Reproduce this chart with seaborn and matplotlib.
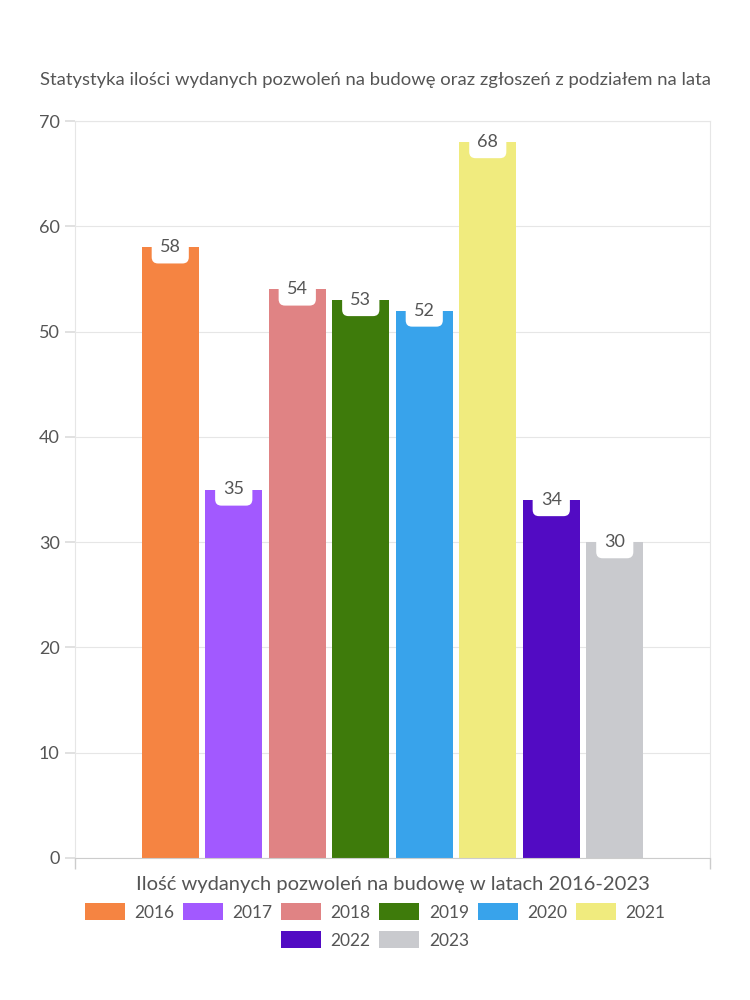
import matplotlib
matplotlib.use("Agg")
import matplotlib.pyplot as plt
import seaborn as sns
import pandas as pd
from matplotlib.patches import Patch

years = ["2016", "2017", "2018", "2019", "2020", "2021", "2022", "2023"]
values = [58, 35, 54, 53, 52, 68, 34, 30]
category = "Ilość wydanych pozwoleń na budowę w latach 2016-2023"
colors = ["#F58442", "#A259FF", "#E08384", "#3E7B0B", "#38A3EB", "#F0EB7E", "#520BC3", "#C9CACE"]
title = "Statystyka ilości wydanych pozwoleń na budowę oraz zgłoszeń z podziałem na lata"

sns.set_theme(style="white")
plt.rcParams['font.family'] = ['Lato', 'DejaVu Sans']
txt = "#555555"

df = pd.DataFrame({"cat": [category] * len(years), "year": years, "value": values})

fig = plt.figure(figsize=(7.5, 10), dpi=100)
ax = fig.add_axes([0.1, 0.142, 0.8467, 0.737])
sns.barplot(data=df, x="cat", y="value", hue="year", hue_order=years,
            palette=colors, width=0.8, gap=0.1, ax=ax, legend=False, saturation=1,
            linewidth=0)

ax.set_ylim(0, 70)
ax.set_xlim(-0.5, 0.5)
ax.set_yticks(range(0, 71, 10))
ax.yaxis.grid(True, color="#e6e6e6", linewidth=0.8)
ax.set_axisbelow(True)
for s in ax.spines.values():
    s.set_color("#e6e6e6")
    s.set_linewidth(0.8)
ax.spines["bottom"].set_color("#cccccc")
ax.tick_params(axis="y", left=True, length=7, color="#dddddd", labelsize=13, labelcolor=txt, pad=4)
ax.tick_params(axis="x", bottom=False, labelsize=14.5, labelcolor=txt, pad=7)
ax.set_xticks([-0.5, 0.5], minor=True)
ax.tick_params(axis="x", which="minor", bottom=True, length=8, color="#cccccc")
ax.set_xlabel("")
ax.set_ylabel("")

for bar, v in zip(ax.patches, values):
    cx = bar.get_x() + bar.get_width() / 2
    ax.annotate(str(v), (cx, bar.get_height()), xytext=(0, 0), textcoords="offset points",
                ha="center", va="center", fontsize=13, color=txt,
                bbox=dict(boxstyle="round,pad=0.45,rounding_size=0.35", fc="white", ec="none"))

fig.text(0.5, 0.92, title, ha="center", va="center", fontsize=13.3, color=txt)

handles = [Patch(facecolor=c, edgecolor="none") for c in colors]
kw = dict(loc="center", frameon=False, fontsize=12.5, handlelength=2.3, handleheight=1.1,
          columnspacing=0.5, handletextpad=0.55, labelcolor=txt)
fig.legend(handles[:6], years[:6], bbox_to_anchor=(0.5, 0.088), ncol=6, **kw)
fig.legend(handles[6:], years[6:], bbox_to_anchor=(0.5, 0.06), ncol=2, **kw)

fig.savefig("out.png", dpi=100, facecolor="white")
